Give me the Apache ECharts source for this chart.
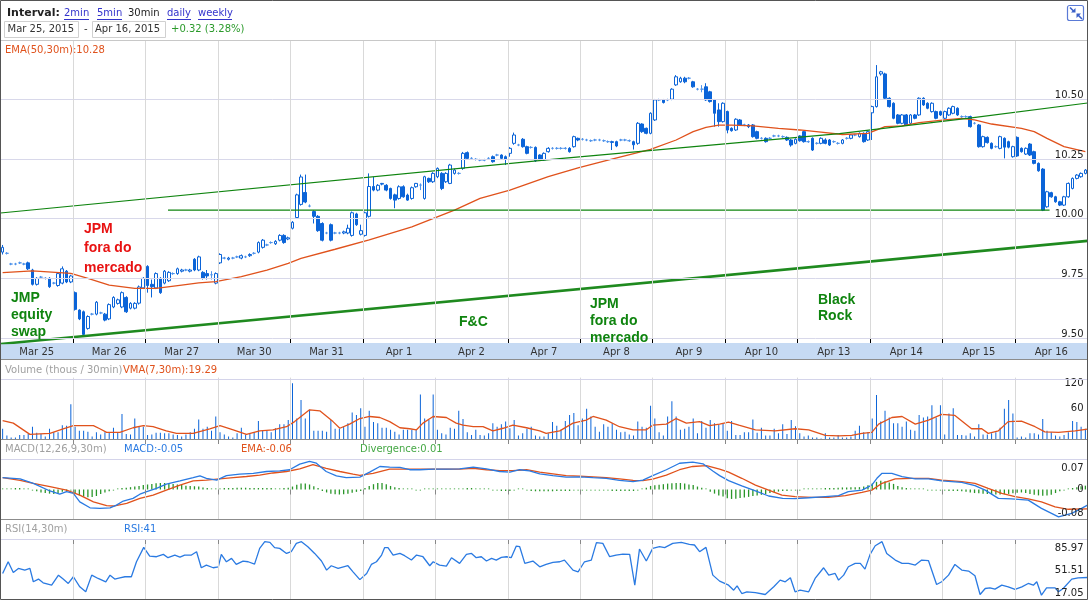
<!DOCTYPE html>
<html><head><meta charset="utf-8">
<script src="https://cdn.jsdelivr.net/npm/echarts@6/dist/echarts.min.js"></script>
<style>html,body{margin:0;padding:0;background:#fff}#c{width:1089px;height:600px}</style>
</head><body><div id="c"></div><script>
// ---------- categories ----------
const days = ['Mar 25','Mar 26','Mar 27','Mar 30','Mar 31','Apr 1','Apr 2','Apr 7','Apr 8','Apr 9','Apr 10','Apr 13','Apr 14','Apr 15','Apr 16'];
const times = ['08:00','08:30','09:00','09:30','10:00','10:30','11:00','11:30','12:00','12:30','13:00','13:30','14:00','14:30','15:00','15:30','16:00'];

// ---------- 30-min candles [open, close, low, high] ----------
const candles = [
// Mar 25
[9.86,9.88,9.85,9.89],[9.855,9.855,9.85,9.86],[9.81,9.81,9.805,9.815],[9.81,9.81,9.805,9.815],[9.815,9.815,9.81,9.82],[9.81,9.81,9.805,9.815],[9.815,9.79,9.785,9.82],[9.785,9.725,9.72,9.79],[9.725,9.75,9.72,9.755],[9.755,9.755,9.75,9.76],[9.75,9.75,9.745,9.755],[9.75,9.715,9.71,9.755],[9.73,9.73,9.725,9.735],[9.72,9.77,9.715,9.775],[9.73,9.79,9.725,9.80],[9.78,9.735,9.73,9.785],[9.735,9.76,9.73,9.765],
// Mar 26
[9.69,9.62,9.615,9.695],[9.617,9.58,9.575,9.62],[9.61,9.515,9.505,9.615],[9.54,9.59,9.535,9.595],[9.60,9.60,9.595,9.605],[9.60,9.65,9.595,9.655],[9.605,9.605,9.60,9.61],[9.60,9.575,9.57,9.605],[9.58,9.64,9.575,9.645],[9.63,9.67,9.625,9.675],[9.645,9.66,9.64,9.665],[9.63,9.69,9.625,9.695],[9.67,9.61,9.605,9.675],[9.625,9.645,9.62,9.65],[9.625,9.645,9.62,9.65],[9.646,9.714,9.64,9.72],[9.71,9.75,9.705,9.755],
// Mar 27
[9.80,9.72,9.69,9.805],[9.725,9.715,9.67,9.745],[9.71,9.77,9.705,9.775],[9.75,9.69,9.685,9.755],[9.73,9.78,9.725,9.785],[9.74,9.775,9.735,9.78],[9.77,9.77,9.765,9.775],[9.77,9.79,9.765,9.795],[9.78,9.785,9.775,9.79],[9.785,9.785,9.78,9.79],[9.78,9.785,9.775,9.79],[9.83,9.785,9.78,9.835],[9.785,9.84,9.78,9.845],[9.775,9.75,9.745,9.78],[9.77,9.76,9.745,9.785],[9.765,9.765,9.745,9.78],[9.73,9.77,9.725,9.775],
// Mar 30
[9.815,9.85,9.81,9.855],[9.835,9.835,9.83,9.84],[9.83,9.835,9.825,9.84],[9.835,9.835,9.83,9.84],[9.84,9.84,9.835,9.845],[9.835,9.845,9.83,9.85],[9.84,9.84,9.835,9.845],[9.845,9.85,9.84,9.855],[9.855,9.855,9.85,9.86],[9.86,9.90,9.855,9.905],[9.88,9.91,9.875,9.915],[9.89,9.89,9.885,9.895],[9.90,9.90,9.895,9.905],[9.895,9.905,9.89,9.91],[9.91,9.93,9.905,9.935],[9.93,9.90,9.895,9.935],[9.915,9.92,9.91,9.925],
// Mar 31
[9.96,9.985,9.955,9.99],[10.005,10.10,10.0,10.105],[10.06,10.175,10.055,10.185],[10.11,10.07,10.065,10.185],[10.053,10.053,10.048,10.06],[10.03,10.01,9.98,10.035],[10.01,9.95,9.945,10.015],[9.98,9.91,9.905,9.985],[9.94,9.94,9.935,9.945],[9.975,9.91,9.905,9.98],[9.94,9.94,9.935,9.945],[9.94,9.94,9.935,9.945],[9.94,9.945,9.935,9.95],[9.94,9.96,9.935,9.975],[9.93,10.025,9.925,10.03],[10.02,9.975,9.97,10.025],[9.935,9.95,9.93,9.975],
// Apr 1
[9.93,10.025,9.925,10.03],[10.01,10.135,10.005,10.19],[10.135,10.12,10.115,10.175],[10.12,10.14,10.115,10.145],[10.145,10.148,10.14,10.15],[10.14,10.12,10.115,10.145],[10.127,10.085,10.08,10.13],[10.10,10.078,10.044,10.105],[10.085,10.134,10.08,10.14],[10.134,10.092,10.088,10.14],[10.099,10.078,10.075,10.105],[10.085,10.13,10.08,10.135],[10.134,10.148,10.13,10.15],[10.141,10.141,10.12,10.148],[10.085,10.176,10.08,10.18],[10.169,10.155,10.15,10.172],[10.155,10.19,10.15,10.195],
// Apr 2
[10.176,10.211,10.17,10.215],[10.19,10.127,10.12,10.195],[10.155,10.19,10.15,10.195],[10.148,10.225,10.145,10.23],[10.19,10.204,10.185,10.21],[10.19,10.19,10.185,10.195],[10.211,10.274,10.205,10.28],[10.277,10.253,10.25,10.282],[10.253,10.253,10.248,10.258],[10.249,10.249,10.244,10.254],[10.246,10.246,10.241,10.251],[10.246,10.246,10.241,10.251],[10.253,10.253,10.248,10.258],[10.26,10.239,10.235,10.265],[10.267,10.267,10.262,10.272],[10.267,10.253,10.248,10.27],[10.26,10.25,10.225,10.265],
// Apr 7
[10.274,10.295,10.26,10.30],[10.316,10.351,10.31,10.361],[10.309,10.309,10.304,10.314],[10.333,10.302,10.298,10.338],[10.302,10.274,10.27,10.306],[10.299,10.299,10.294,10.304],[10.299,10.243,10.238,10.303],[10.267,10.25,10.246,10.27],[10.246,10.274,10.242,10.278],[10.281,10.295,10.277,10.30],[10.295,10.295,10.29,10.30],[10.295,10.295,10.29,10.30],[10.295,10.295,10.29,10.30],[10.295,10.295,10.29,10.30],[10.295,10.281,10.277,10.30],[10.302,10.344,10.298,10.348],[10.337,10.33,10.325,10.34],
// Apr 8
[10.333,10.333,10.328,10.338],[10.33,10.33,10.325,10.335],[10.327,10.327,10.322,10.332],[10.33,10.33,10.325,10.335],[10.33,10.33,10.325,10.335],[10.327,10.327,10.322,10.332],[10.323,10.323,10.318,10.328],[10.323,10.32,10.288,10.327],[10.323,10.305,10.30,10.327],[10.33,10.33,10.325,10.335],[10.33,10.33,10.325,10.335],[10.327,10.327,10.322,10.332],[10.323,10.31,10.29,10.327],[10.316,10.40,10.31,10.405],[10.397,10.365,10.36,10.40],[10.379,10.358,10.354,10.382],[10.358,10.442,10.354,10.446],
// Apr 9
[10.414,10.498,10.41,10.502],[10.498,10.498,10.493,10.503],[10.498,10.487,10.483,10.502],[10.498,10.498,10.493,10.503],[10.501,10.543,10.497,10.547],[10.561,10.595,10.557,10.602],[10.574,10.589,10.57,10.595],[10.589,10.574,10.568,10.595],[10.589,10.589,10.584,10.594],[10.574,10.553,10.549,10.578],[10.543,10.543,10.538,10.548],[10.543,10.543,10.53,10.56],[10.553,10.498,10.494,10.568],[10.532,10.491,10.487,10.536],[10.498,10.442,10.386,10.502],[10.456,10.407,10.386,10.484],[10.407,10.484,10.403,10.488],
// Apr 10
[10.449,10.372,10.358,10.453],[10.379,10.369,10.365,10.383],[10.372,10.417,10.368,10.421],[10.414,10.393,10.389,10.418],[10.393,10.393,10.388,10.398],[10.393,10.386,10.38,10.397],[10.393,10.344,10.34,10.397],[10.365,10.337,10.333,10.369],[10.337,10.337,10.332,10.342],[10.337,10.323,10.319,10.341],[10.337,10.337,10.332,10.342],[10.347,10.347,10.342,10.352],[10.347,10.347,10.342,10.352],[10.344,10.344,10.339,10.349],[10.341,10.33,10.326,10.345],[10.33,10.309,10.302,10.334],[10.316,10.333,10.312,10.337],
// Apr 13
[10.347,10.327,10.323,10.35],[10.365,10.323,10.319,10.369],[10.323,10.323,10.318,10.328],[10.337,10.288,10.284,10.341],[10.316,10.316,10.311,10.321],[10.316,10.337,10.312,10.341],[10.33,10.316,10.312,10.337],[10.33,10.309,10.305,10.334],[10.323,10.323,10.318,10.328],[10.316,10.316,10.311,10.321],[10.316,10.33,10.312,10.334],[10.337,10.337,10.332,10.342],[10.337,10.351,10.333,10.355],[10.351,10.351,10.346,10.356],[10.344,10.358,10.34,10.362],[10.358,10.323,10.319,10.362],[10.33,10.365,10.326,10.369],
// Apr 14
[10.444,10.47,10.33,10.474],[10.47,10.595,10.466,10.644],[10.607,10.616,10.60,10.62],[10.607,10.505,10.50,10.612],[10.505,10.47,10.466,10.509],[10.484,10.421,10.417,10.488],[10.435,10.40,10.396,10.439],[10.40,10.435,10.396,10.439],[10.435,10.393,10.389,10.439],[10.40,10.435,10.396,10.439],[10.435,10.421,10.417,10.439],[10.435,10.505,10.431,10.509],[10.505,10.477,10.473,10.509],[10.484,10.463,10.459,10.488],[10.449,10.484,10.445,10.488],[10.449,10.421,10.417,10.453],[10.449,10.435,10.431,10.453],
// Apr 15
[10.421,10.449,10.417,10.453],[10.435,10.463,10.431,10.467],[10.442,10.47,10.438,10.474],[10.463,10.435,10.431,10.467],[10.428,10.428,10.423,10.433],[10.428,10.428,10.423,10.433],[10.428,10.386,10.382,10.432],[10.40,10.40,10.395,10.405],[10.393,10.302,10.298,10.397],[10.302,10.344,10.298,10.348],[10.341,10.319,10.315,10.345],[10.316,10.295,10.291,10.32],[10.302,10.302,10.297,10.307],[10.295,10.344,10.291,10.348],[10.337,10.30,10.253,10.341],[10.323,10.30,10.295,10.327],[10.26,10.302,10.256,10.306],
// Apr 16
[10.341,10.263,10.259,10.345],[10.295,10.281,10.277,10.299],[10.271,10.295,10.267,10.299],[10.313,10.267,10.263,10.317],[10.281,10.232,10.228,10.285],[10.232,10.201,10.197,10.236],[10.208,10.036,10.032,10.212],[10.05,10.113,10.046,10.117],[10.109,10.092,10.088,10.113],[10.092,10.071,10.067,10.096],[10.071,10.057,10.053,10.075],[10.057,10.092,10.053,10.096],[10.092,10.148,10.088,10.152],[10.127,10.169,10.123,10.173],[10.169,10.183,10.165,10.187],[10.176,10.19,10.172,10.194],[10.19,10.204,10.186,10.208]
];

// ---------- volume (thousands per 30 min) ----------
const volume = [
20,7,3,3,8,8,10,24,12,10,5,20,13,13,27,26,68,
24,16,16,14,5,13,9,13,13,22,13,49,10,9,40,24,24,
8,9,12,12,11,11,9,8,5,9,13,20,38,20,24,16,44,
13,9,5,3,11,22,9,11,13,35,16,16,13,21,29,29,37,
109,40,76,40,57,16,16,16,14,37,20,20,24,31,52,47,60,
24,55,33,31,22,22,18,14,9,18,18,18,18,87,40,37,87,
18,11,9,22,20,55,39,13,8,18,8,7,11,31,24,29,34,
21,37,7,11,20,24,7,5,5,11,33,26,18,35,47,51,27,
40,59,44,24,14,29,24,31,18,13,14,9,7,34,24,22,65,
40,13,7,44,74,44,18,20,24,40,11,35,22,37,31,28,30,
16,35,8,8,13,13,38,12,22,7,7,20,11,29,10,37,25,
11,5,7,3,3,1,11,3,3,8,3,3,5,16,26,13,13,
40,86,34,55,42,31,31,24,34,18,16,47,42,44,66,42,66,
9,50,60,8,8,7,11,5,29,9,9,11,13,22,59,76,50,
3,5,3,11,11,9,39,16,13,7,5,8,13,35,33,24,20
];

// ---------- MACD divergence per bar ----------
const divergence = [
0,0.002,0.003,0.004,0.005,0.003,0.001,-0.002,-0.006,-0.010,-0.012,-0.014,-0.015,-0.012,-0.008,-0.004,-0.003,
-0.012,-0.020,-0.024,-0.026,-0.025,-0.022,-0.015,-0.010,-0.006,-0.002,0.002,0.004,0.006,0.008,0.010,0.012,0.015,
0.017,0.019,0.021,0.022,0.022,0.021,0.019,0.017,0.015,0.013,0.012,0.011,0.010,0.007,0.004,0.002,0.001,
0.002,0.004,0.005,0.005,0.006,0.006,0.006,0.005,0.005,0.005,0.005,0.004,0.004,0.003,0.003,0.004,0.006,
0.010,0.016,0.020,0.020,0.017,0.011,0.004,-0.004,-0.010,-0.014,-0.016,-0.017,-0.016,-0.014,-0.011,-0.008,-0.005,
0.004,0.012,0.018,0.022,0.022,0.018,0.012,0.008,0.004,0.002,0.001,0,-0.001,-0.001,0,0,0,
0,0,0,0.001,0.001,0.002,0.003,0.004,0.004,0.003,0.002,0.001,0,-0.001,-0.003,-0.004,-0.005,
-0.005,-0.002,0.002,0,-0.003,-0.004,-0.006,-0.006,-0.006,-0.006,-0.006,-0.005,-0.005,-0.005,-0.004,-0.003,-0.002,
-0.003,-0.003,-0.003,-0.002,-0.002,-0.002,-0.003,-0.004,-0.005,-0.005,-0.005,-0.004,-0.004,-0.002,0.002,0.006,0.012,
0.014,0.016,0.018,0.020,0.021,0.022,0.022,0.020,0.017,0.015,0.010,0.006,0,-0.008,-0.014,-0.020,-0.024,
-0.030,-0.032,-0.031,-0.029,-0.027,-0.025,-0.022,-0.020,-0.018,-0.015,-0.012,-0.010,-0.007,-0.005,-0.004,-0.003,-0.002,
-0.001,0,0.001,0.002,0.002,0.003,0.004,0.004,0.005,0.006,0.007,0.007,0.008,0.008,0.008,0.010,0.014,
0.020,0.026,0.030,0.028,0.024,0.019,0.012,0.008,0.005,0.003,0.002,0.001,0,-0.001,-0.002,-0.003,-0.003,
-0.003,-0.004,-0.004,-0.005,-0.006,-0.008,-0.010,-0.012,-0.013,-0.014,-0.015,-0.016,-0.017,-0.017,-0.016,-0.015,-0.013,
-0.011,-0.010,-0.012,-0.015,-0.018,-0.020,-0.021,-0.020,-0.018,-0.012,-0.006,-0.002,0.002,0.004,0.008,0.011,0.013
];

// ---------- indicator lines, read as [bar position, value] ----------
const ema50 = [[0,9.774],[7,9.781],[16,9.771],[20,9.75],[25,9.722],[31,9.708],[36,9.708],[42,9.722],[46,9.731],[50,9.736],[56,9.757],[62,9.785],[67,9.813],[70,9.834],[78,9.872],[86,9.911],[96,9.966],[106,10.036],[112,10.085],[119,10.12],[128,10.176],[135,10.213],[142,10.246],[152,10.291],[158,10.33],[162,10.365],[165,10.383],[168,10.392],[171,10.392],[176,10.389],[182,10.379],[187,10.372],[192,10.363],[197,10.353],[203,10.358],[207,10.386],[211,10.389],[215,10.403],[221,10.414],[225,10.421],[228,10.414],[232,10.397],[239,10.379],[242,10.365],[245,10.337],[249,10.302],[254,10.281]];

const vma7 = [[0,36],[2.5,31],[6.4,9],[11.1,11],[14.2,20],[16.6,26],[21.3,26],[22.8,20],[24.4,13],[27.5,13],[30.6,22],[33,26],[35.3,24],[38.4,16],[40.8,11],[44.7,11],[48.6,20],[51,26],[54.1,18],[57.2,9],[60.3,16],[63.4,18],[66.6,24],[68.5,34],[72,57],[74.4,55],[77.5,34],[79.1,21],[81.4,29],[83.8,40],[86.1,44],[88.5,42],[90.8,34],[93.2,22],[95.5,20],[97.1,18],[98.6,31],[101,44],[104.1,42],[106.4,31],[108,27],[110.4,24],[112.7,24],[115,16],[117.4,21],[119.7,27],[122.9,22],[126,16],[127.5,11],[130.7,16],[133.8,31],[136.9,37],[138.5,44],[141.6,37],[144.7,24],[147.9,18],[151,18],[152.5,27],[155.7,29],[158,40],[160.4,31],[163.5,34],[165.8,26],[168.2,29],[170.3,33],[172.7,27],[176.6,18],[181.2,16],[185.9,20],[189.1,18],[193,7],[196.1,6],[199.2,7],[201.6,11],[203.9,13],[205.5,29],[208.6,42],[211,44],[214.1,29],[217.2,37],[220.3,48],[223.4,46],[227.3,20],[229.7,20],[231.2,11],[233.6,16],[235.9,34],[239,35],[242.2,24],[244.5,14],[247.7,13],[251.6,16],[254.5,19.3]];

const macdLine = [[0,0.040],[4.1,0.036],[7.2,0.021],[11.1,-0.005],[13.4,-0.016],[15,-0.007],[16.6,-0.013],[18.1,-0.042],[20.5,-0.062],[22.8,-0.064],[25.2,-0.062],[26.7,-0.053],[28.3,-0.039],[30.6,-0.030],[32.2,-0.016],[33.8,-0.007],[36.1,0.004],[38.4,0.018],[41.6,0.029],[44.7,0.040],[46.3,0.046],[47.8,0.038],[50.2,0.032],[52.5,0.047],[55.6,0.052],[58.8,0.055],[61.9,0.061],[65,0.063],[67.3,0.067],[69.7,0.086],[72,0.095],[73.6,0.089],[75.9,0.061],[78.3,0.046],[80.6,0.040],[83.8,0.042],[86.1,0.059],[88.5,0.078],[90.8,0.076],[93.2,0.075],[95.5,0.067],[97.9,0.067],[101,0.069],[104.1,0.069],[107.2,0.070],[110.4,0.076],[113.5,0.070],[116.6,0.061],[119,0.059],[121.3,0.067],[123.6,0.063],[126,0.053],[129.1,0.047],[132.2,0.042],[135.4,0.043],[138.5,0.040],[141.6,0.038],[144.7,0.031],[147.9,0.027],[150.2,0.032],[152.5,0.047],[155.7,0.067],[158.8,0.089],[161.9,0.093],[164.3,0.087],[166.6,0.063],[168.2,0.047],[170.3,0.030],[173.4,0.012],[176.6,-0.005],[179.7,-0.022],[183,-0.030],[185.9,-0.031],[189.1,-0.028],[193,-0.024],[196.1,-0.021],[198.4,-0.007],[201.6,-0.002],[203.9,0.015],[205.1,0.038],[206.3,0.055],[208.6,0.055],[211,0.044],[214.1,0.036],[217.2,0.036],[220.3,0.029],[225,0.024],[228.1,0.013],[230.5,-0.002],[233.6,-0.030],[236.7,-0.032],[240.6,-0.036],[243.7,-0.064],[247.7,-0.093],[250.8,-0.081],[253.1,-0.064],[254.5,-0.053]];

const macdSignal = [[0,0.040],[4.1,0.031],[7.2,0.021],[11.1,0.010],[15,-0.002],[18.1,-0.019],[21.3,-0.042],[24.4,-0.055],[26,-0.056],[29.1,-0.047],[32.2,-0.030],[35.3,-0.019],[38.4,-0.002],[41.6,0.015],[44.7,0.029],[47.8,0.032],[50.9,0.036],[54.1,0.040],[57.2,0.044],[60.3,0.049],[63.4,0.056],[66.6,0.061],[69.7,0.070],[72.8,0.084],[75.9,0.072],[79.1,0.061],[82.2,0.052],[83.8,0.048],[86.9,0.055],[90.8,0.069],[94,0.069],[97.9,0.069],[101,0.069],[104.1,0.069],[107.2,0.069],[110.4,0.072],[113.5,0.067],[116.6,0.064],[119.7,0.064],[122.9,0.067],[126,0.059],[129.1,0.053],[132.2,0.047],[135.4,0.045],[138.5,0.043],[141.6,0.040],[144.7,0.036],[147.9,0.031],[150.2,0.030],[152.5,0.035],[155.7,0.049],[158.8,0.067],[161.9,0.078],[165.1,0.081],[168.2,0.069],[170.3,0.059],[173.4,0.038],[176.6,0.015],[179.7,-0.002],[182.8,-0.019],[185.9,-0.024],[189.8,-0.027],[193.7,-0.027],[197.7,-0.021],[201.6,-0.010],[203.9,-0.002],[206.3,0.021],[209.4,0.036],[213.3,0.038],[217.2,0.038],[220.3,0.032],[225,0.027],[228.1,0.021],[231.2,0.004],[234.4,-0.013],[237.5,-0.024],[240.6,-0.032],[243.7,-0.042],[246.9,-0.059],[250,-0.067],[254.5,-0.066]];

const rsi14 = [[0,47.2],[1.3,65.1],[2.5,48.7],[3.7,54.9],[5.2,52.3],[6.4,54.9],[7.2,34.4],[8.4,38.5],[9.5,32.8],[11.5,29.2],[13.1,44.6],[14.2,38.5],[15.4,31.8],[16.6,42.1],[18.1,26.7],[19.5,19.0],[20.9,44.6],[22.4,39.5],[24.2,34.4],[25.2,44.6],[26.3,38.5],[27.5,40.5],[28.7,42.1],[30.2,42.1],[31.4,65.1],[33.1,87.2],[34.5,73.8],[36.1,72.8],[37.7,76.4],[38.8,71.3],[40.4,75.4],[41.6,72.3],[42.7,75.4],[44.3,75.4],[45.5,80.5],[46.6,55.9],[47.8,60.0],[49.4,55.9],[50.6,57.4],[51.3,76.4],[52.5,65.1],[53.7,70.3],[54.8,61.0],[56.4,66.2],[57.6,65.1],[59.1,61.5],[60.3,85.6],[61.5,95.9],[62.7,94.9],[63.8,86.7],[65,85.6],[66.6,77.9],[67.7,80.5],[68.9,93.3],[70.1,95.9],[71.6,88.2],[73.2,77.9],[74.8,66.2],[76,52.3],[77.1,59.0],[78.7,54.9],[81,59.0],[82.2,49.7],[83.8,37.7],
[85.4,47.2],[86.5,61.0],[87.7,65.1],[88.9,75.4],[89.6,86.7],[90.4,86.7],[91.6,75.4],[93.2,77.9],[94.3,74.4],[95.9,67.7],[97.1,75.4],[98.6,72.8],[100.2,59.0],[101,65.1],[102.5,60.0],[104.1,58.5],[105.3,71.3],[107.2,62.6],[108.8,76.4],[110,77.9],[111.1,71.3],[112.3,72.8],[113.5,66.2],[114.7,70.3],[115.8,67.7],[117,71.8],[118.2,72.8],[119.3,71.3],[120.5,89.2],[121.3,88.2],[122.5,62.6],[124.4,66.2],[126,57.4],[127.5,61.0],[129.1,64.1],[130.7,65.1],[131.8,67.7],[133.8,52.3],[135,49.7],[136.5,65.1],[138.1,67.7],[139.3,94.4],[140.8,93.3],[142.4,72.8],[143.9,75.4],[145.5,76.9],[147.1,76.4],[148.3,29.2],[149.4,84.6],[151,66.2],[152.5,85.6],[154.1,88.2],[155.3,86.7],[157.2,93.3],[159.2,94.9],[161.1,91.8],[162.3,90.8],[163.5,80.5],[165,87.2],[166.6,44.6],[168.2,35.4],
[170.3,29.2],[171.5,21.5],[172.3,28.2],[173.4,16.4],[174.6,19.0],[176.6,17.9],[178.9,14.9],[180.9,26.7],[182.4,36.9],[183.6,34.4],[184.8,40.5],[185.9,19.0],[187.1,21.5],[189.1,19.0],[190.6,39.5],[192.6,55.9],[193.8,44.6],[195.3,47.2],[196.1,36.9],[197.3,44.6],[198.4,57.4],[200,62.6],[201.2,62.6],[202.3,53.8],[203.5,76.4],[204.7,89.7],[206.3,95.9],[207.4,77.9],[209.4,67.7],[211,62.6],[212.5,62.6],[214.1,60.0],[215.6,67.7],[217.2,66.7],[219.1,30.3],[220.3,34.4],[221.9,44.6],[223.4,61.0],[225,52.3],[226.6,50.8],[228.1,43.6],[229.3,14.9],[230.5,24.1],[231.6,25.1],[232.8,23.1],[234.4,29.2],[235.9,26.7],[237.5,22.6],[239.1,26.7],[240.6,31.8],[241.8,29.2],[242.6,34.4],[243.7,13.8],[244.9,25.1],[246.9,25.1],[247.7,19.0],[248.8,24.1],[250.8,38.5],[252.3,40.5],[254.5,41.0]];

// ---------- hand-drawn trend lines [bar position, price] ----------
const trendUpper = [[-0.5,10.024],[130.7,10.252],[196.3,10.357],[226.8,10.422],[254.5,10.485]];
const trendFlat = [[38.8,10.036],[245.6,10.036]];
const trendLower = [[-0.5,9.475],[254.5,9.907]];

// ---------- axis tick values ----------
const priceTicks = [9.5, 9.75, 10, 10.25, 10.5];
const volumeTicks = [60, 120];
const macdTicks = [-0.08, 0, 0.07];
const rsiTicks = [17.05, 51.51, 85.97];

// ---------- build ----------
const categories = [];
days.forEach(d => times.forEach(t => categories.push(d + ' ' + t)));
const N = categories.length, P = times.length;
const dayStart = i => i % P === 0;
const dayMid = i => i % P === Math.floor(P / 2);

const FONT = 'DejaVu Sans';
const BLUE = '#0b64d8', RED = '#e0521c', LBLUE = '#2a7ae2', GREEN_T = '#0f840f';
const L = 0.5, W = 1087;

const grids = [
  {left: L, width: W, top: 41, height: 302},
  {left: L, width: W, top: 377.6, height: 61.4},
  {left: L, width: W, top: 460, height: 59},
  {left: L, width: W, top: 539, height: 60}
];

const catAxes = grids.map((g, gi) => ({
  type: 'category', gridIndex: gi, data: categories, boundaryGap: true,
  position: gi === 0 ? 'bottom' : 'top', z: 10,
  axisLine: {show: false},
  axisTick: {show: true, inside: true, length: gi === 0 ? 4 : 5, interval: (i) => dayStart(i), lineStyle: {color: gi === 0 ? '#000' : '#888'}},
  axisLabel: gi === 0 ? {show: true, interval: (i) => dayMid(i), formatter: v => v.slice(0, v.lastIndexOf(' ')), color: '#333', fontSize: 10, fontFamily: FONT, margin: 4} : {show: false},
  splitLine: {show: true, interval: (i) => dayStart(i) && i > 0, lineStyle: {color: '#d9d9d9', width: 1}}
}));
const valAxes = grids.map((g, gi) => ({type: 'value', gridIndex: gi, min: -0.5, max: N - 0.5, show: false}));

const yLabel = (vals, fmt, extra) => Object.assign({
  inside: true, customValues: vals, formatter: fmt, color: '#222', fontSize: 10, fontFamily: FONT, margin: 4
}, extra || {});
const yBase = {type: 'value', position: 'right', axisLine: {show: false}, axisTick: {show: false}, splitLine: {show: false}, z: 10};

const yAxes = [
  Object.assign({}, yBase, {gridIndex: 0, min: 9.479, max: 10.745, axisLabel: yLabel(priceTicks, v => '{p|' + v.toFixed(2) + '}', {rich: {p: {padding: [0, 0, 8, 0], fontSize: 10, fontFamily: FONT, color: '#222'}}})}),
  Object.assign({}, yBase, {gridIndex: 1, min: 0, max: 120, axisLabel: yLabel(volumeTicks, v => v === 120 ? '{t|120}' : String(v), {rich: {t: {padding: [11, 0, 0, 0], fontSize: 10, fontFamily: FONT, color: '#222'}}})}),
  Object.assign({}, yBase, {gridIndex: 2, min: -0.1, max: 0.1, axisLabel: yLabel(macdTicks, v => Math.abs(v) < 1e-9 ? '0' : v.toFixed(2))}),
  Object.assign({}, yBase, {gridIndex: 3, min: 8, max: 100, axisLabel: yLabel(rsiTicks, v => v.toFixed(2))})
];

const lineS = (data, xi, yi, color, width, z) => ({
  type: 'line', xAxisIndex: xi, yAxisIndex: yi, data, showSymbol: false, symbol: 'none',
  lineStyle: {color, width}, z: z || 3, silent: true, animation: false
});

const series = [
  {type: 'line', xAxisIndex: 4, yAxisIndex: 0, data: [], z: 1, silent: true,
   markLine: {silent: true, symbol: 'none', label: {show: false}, animation: false,
     lineStyle: {color: '#d8d8ea', width: 1, type: 'solid'}, emphasis: {disabled: true},
     data: priceTicks.map(v => ({yAxis: v}))}},
  {type: 'candlestick', xAxisIndex: 0, yAxisIndex: 0, data: candles, barWidth: 3.2, z: 2, silent: true,
   itemStyle: {color: '#ffffff', color0: BLUE, borderColor: BLUE, borderColor0: BLUE, borderColorDoji: '#4f93ea', borderWidth: 1}},
  lineS(ema50, 4, 0, RED, 1.3, 3),
  lineS(trendUpper, 4, 0, GREEN_T, 1.2, 4),
  lineS(trendFlat, 4, 0, GREEN_T, 1.2, 4),
  lineS(trendLower, 4, 0, '#1f8a1f', 2.6, 4),
  {type: 'bar', xAxisIndex: 1, yAxisIndex: 1, data: volume, barWidth: 1, silent: true, itemStyle: {color: BLUE}},
  lineS(vma7, 5, 1, RED, 1.3, 3),
  {type: 'bar', xAxisIndex: 2, yAxisIndex: 2, data: divergence, barWidth: 1.3, barMinHeight: 1.5, silent: true,
   itemStyle: {color: p => Math.abs(p.value) < 0.004 ? '#8fcb8f' : '#2a962a'}},
  lineS(macdLine, 6, 2, LBLUE, 1.3, 4),
  lineS(macdSignal, 6, 2, RED, 1.3, 3),
  lineS(rsi14, 7, 3, LBLUE, 1.3, 3)
];

// ---------- page furniture ----------
const txt = (x, y, text, fill, font, z) => ({type: 'text', x, y, silent: true, z: z || 50,
  style: {text, fill, font: font || ('10px "' + FONT + '"'), textVerticalAlign: 'middle', verticalAlign: 'middle'}});
const hline = (y, color, x1, x2) => ({type: 'line', silent: true, z: 20, shape: {x1: x1 == null ? 0 : x1, y1: y, x2: x2 == null ? 1088 : x2, y2: y}, style: {stroke: color, lineWidth: 1}});

const LINK = '#3333cc';
const noteFont = 'bold 14px "Liberation Sans"';
const notes = [
  {lines: ['JPM', 'fora do', 'mercado'], x: 84, y: 229, dy: 19.5, color: '#e81212'},
  {lines: ['JMP', 'equity', 'swap'], x: 11, y: 298, dy: 17, color: GREEN_T},
  {lines: ['F&C'], x: 459, y: 322, dy: 17, color: GREEN_T},
  {lines: ['JPM', 'fora do', 'mercado'], x: 590, y: 304, dy: 17, color: GREEN_T},
  {lines: ['Black', 'Rock'], x: 818, y: 300, dy: 16.5, color: GREEN_T}
];
const noteEls = [];
notes.forEach(n => n.lines.forEach((s, k) => noteEls.push(txt(n.x, n.y + k * n.dy, s, n.color, noteFont, 60))));

const graphic = [
  {type: 'rect', silent: true, z: 1, shape: {x: 0.5, y: 343, width: W, height: 16}, style: {fill: '#c6daf3'}},
  hline(40.5, '#c8c8c8'),
  hline(359.5, '#8c8c8c'),
  hline(379.5, '#d4d4ea'),
  hline(439.5, '#8c8c8c'),
  hline(459.5, '#d4d4ea'),
  hline(519.5, '#8c8c8c'),
  hline(539.5, '#d4d4ea'),
  {type: 'rect', silent: true, z: 90, shape: {x: 0.5, y: 0.5, width: 1087, height: 599}, style: {fill: null, stroke: '#555', lineWidth: 1}},
  // header row 1
  txt(7, 13, 'Interval:', '#222', 'bold 11px "' + FONT + '"'),
  txt(64, 13, '2min', LINK), hline(19.5, LINK, 64, 89),
  txt(97, 13, '5min', LINK), hline(19.5, LINK, 97, 122),
  txt(128, 13, '30min', '#222'),
  txt(167, 13, 'daily', LINK), hline(19.5, LINK, 167, 191),
  txt(198, 13, 'weekly', LINK), hline(19.5, LINK, 198, 232),
  // header row 2
  {type: 'rect', silent: true, z: 40, shape: {x: 4.5, y: 21.5, width: 74, height: 16}, style: {fill: '#fff', stroke: '#d0d0d0'}},
  txt(7.5, 29.5, 'Mar 25, 2015', '#333'),
  txt(84, 29.5, '-', '#333'),
  {type: 'rect', silent: true, z: 40, shape: {x: 92.5, y: 21.5, width: 73, height: 16}, style: {fill: '#fff', stroke: '#d0d0d0'}},
  txt(95, 29.5, 'Apr 16, 2015', '#333'),
  txt(171, 29.5, '+0.32 (3.28%)', '#2b9a2b'),
  // collapse icon
  {type: 'rect', silent: true, z: 40, shape: {x: 1067.5, y: 5.5, width: 16, height: 15, r: 2}, style: {fill: '#fff', stroke: '#5a7ad6', lineWidth: 1.2}},
  {type: 'polygon', silent: true, z: 41, shape: {points: [[1075.5, 12.5], [1075.5, 8], [1071, 12.5]]}, style: {fill: '#3a5fc8'}},
  {type: 'line', silent: true, z: 41, shape: {x1: 1070, y1: 7.5, x2: 1074, y2: 11.5}, style: {stroke: '#3a5fc8', lineWidth: 1.6}},
  {type: 'polygon', silent: true, z: 41, shape: {points: [[1076.5, 13.5], [1076.5, 18], [1081, 13.5]]}, style: {fill: '#3a5fc8'}},
  {type: 'line', silent: true, z: 41, shape: {x1: 1082, y1: 19, x2: 1078, y2: 15}, style: {stroke: '#3a5fc8', lineWidth: 1.6}},
  // panel captions
  txt(5, 50, 'EMA(50,30m):10.28', RED),
  txt(5, 370, 'Volume (thous / 30min)', '#a0a0a0'),
  txt(123, 370, 'VMA(7,30m):19.29', RED),
  txt(5, 449.5, 'MACD(12,26,9,30m)', '#a0a0a0'),
  txt(124, 449.5, 'MACD:-0.05', LBLUE),
  txt(241, 449.5, 'EMA:-0.06', RED),
  txt(360, 449.5, 'Divergence:0.01', '#45a845'),
  txt(5, 529.5, 'RSI(14,30m)', '#a0a0a0'),
  txt(124, 529.5, 'RSI:41', LBLUE)
].concat(noteEls);

const chart = echarts.init(document.getElementById('c'), null, {renderer: 'canvas'});
chart.setOption({
  animation: false,
  textStyle: {fontFamily: FONT},
  grid: grids,
  xAxis: catAxes.concat(valAxes),
  yAxis: yAxes,
  series,
  graphic
});
</script></body></html>
